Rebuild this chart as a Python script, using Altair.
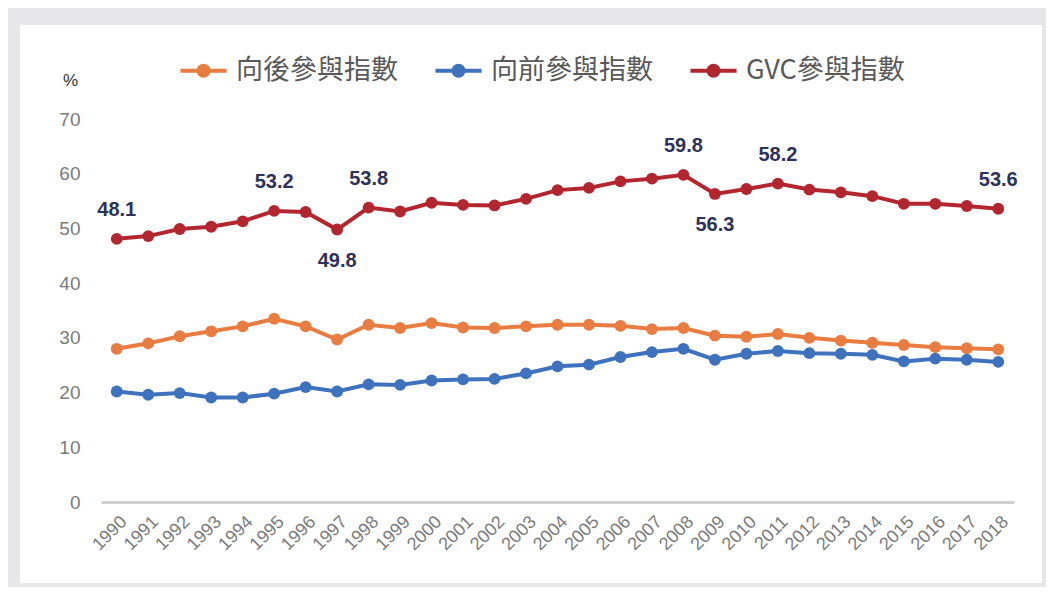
import altair as alt
import pandas as pd

years = list(range(1990, 2019))
backward = [28.0, 29.0, 30.3, 31.2, 32.1, 33.5, 32.1, 29.7, 32.4, 31.8,
            32.7, 31.9, 31.8, 32.1, 32.4, 32.4, 32.2, 31.6, 31.8, 30.4,
            30.2, 30.7, 30.0, 29.5, 29.1, 28.7, 28.3, 28.1, 27.9]
forward = [20.2, 19.6, 19.9, 19.1, 19.1, 19.8, 21.0, 20.2, 21.5, 21.4,
           22.2, 22.4, 22.5, 23.5, 24.8, 25.1, 26.5, 27.4, 28.0, 26.0,
           27.1, 27.6, 27.2, 27.1, 26.9, 25.7, 26.2, 26.0, 25.6]
gvc = [48.1, 48.6, 49.9, 50.3, 51.3, 53.2, 53.0, 49.8, 53.8, 53.1,
       54.7, 54.3, 54.2, 55.4, 57.0, 57.4, 58.6, 59.1, 59.8, 56.3,
       57.2, 58.2, 57.1, 56.6, 55.9, 54.5, 54.5, 54.1, 53.6]
series_names = ["向後參與指數", "向前參與指數", "GVC參與指數"]
series_colors = ["#E87C41", "#3F72BC", "#B22630"]
labels_above = [1990, 1995, 1998, 2008, 2011, 2018]
labels_below = [1997, 2009]
y_ticks = [0, 10, 20, 30, 40, 50, 60, 70]

rows = []
for name, vals in zip(series_names, [backward, forward, gvc]):
    for yr, v in zip(years, vals):
        rows.append({"year": str(yr), "series": name, "value": v})
df = pd.DataFrame(rows)

legend_path = "M-2.05,0L2.05,0M0.45,0A0.45,0.45,0,1,1,-0.45,0A0.45,0.45,0,1,1,0.45,0"

x_enc = alt.X("year:O", title=None,
              axis=alt.Axis(labelAngle=-45, labelAlign="right", labelBaseline="middle",
                            labelPadding=17, labelOffset=7, labelFontSize=18,
                            labelFont="Liberation Sans", labelColor="#7A7A7A",
                            ticks=False, domainColor="#CFCFCF", domainWidth=3,
                            grid=False, labelOverlap=False, zindex=1))
y_enc = alt.Y("value:Q", scale=alt.Scale(domain=[0, 70], nice=False),
              axis=alt.Axis(values=y_ticks, title="%", titleAngle=0, titleX=-31, titleY=-39,
                            titleAlign="center", titleBaseline="middle", titleFontSize=17,
                            titleFontWeight="normal", titleColor="#333333",
                            titleFont="Liberation Sans", labelFontSize=19,
                            labelFont="Liberation Sans", labelColor="#7A7A7A",
                            labelPadding=21, ticks=False, domain=False, grid=False, zindex=1))
color_enc = alt.Color("series:N", sort=series_names,
                      scale=alt.Scale(domain=series_names, range=series_colors),
                      legend=alt.Legend(title=None, orient="none", legendX=89, legendY=-62,
                                        direction="horizontal", symbolType=legend_path,
                                        symbolSize=506, symbolStrokeWidth=4,
                                        labelFontSize=27, labelFont="Noto Sans CJK TC",
                                        labelColor="#595959", labelOffset=19,
                                        columnPadding=29, padding=0, labelLimit=400))

base = alt.Chart(df).encode(x=x_enc, y=y_enc, color=color_enc)
lines = base.mark_line(strokeWidth=4)
points = base.mark_point(filled=True, size=140, opacity=1)

gvc_df = df[df["series"] == "GVC參與指數"]
text_above = alt.Chart(gvc_df).transform_filter(
    alt.FieldOneOfPredicate(field="year", oneOf=[str(y) for y in labels_above])
).mark_text(fontSize=20, fontWeight="bold", font="Liberation Sans", color="#2E3159",
            dy=-29, baseline="middle").encode(x="year:O", y="value:Q", text=alt.Text("value:Q", format=".1f"))
text_below = alt.Chart(gvc_df).transform_filter(
    alt.FieldOneOfPredicate(field="year", oneOf=[str(y) for y in labels_below])
).mark_text(fontSize=20, fontWeight="bold", font="Liberation Sans", color="#2E3159",
            dy=31, baseline="middle").encode(x="year:O", y="value:Q", text=alt.Text("value:Q", format=".1f"))

panel = alt.Chart(pd.DataFrame({"k": [0]})).mark_rect(color="white").encode(
    x=alt.value(-81), x2=alt.value(941), y=alt.value(-94), y2=alt.value(464))

chart = alt.layer(panel, lines, points, text_above, text_below).properties(
    width=913, height=383,
    autosize=alt.AutoSizeParams(type="none"),
    padding={"left": 93, "top": 111, "right": 32, "bottom": 85},
).configure(background="#E7E7E9").configure_view(stroke="transparent")

chart.save("out.html", embed_options={"renderer": "svg", "actions": False})
